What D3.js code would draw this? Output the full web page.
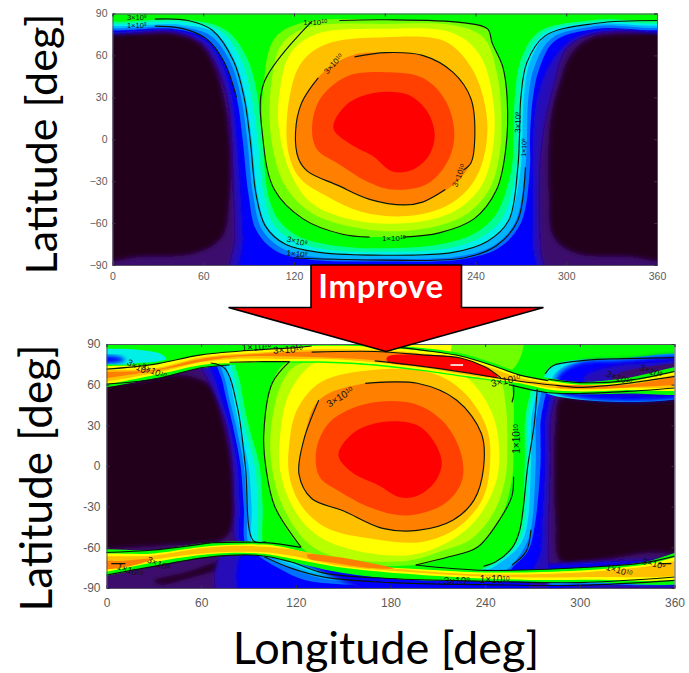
<!DOCTYPE html>
<html><head><meta charset="utf-8"><style>html,body{margin:0;background:#fff}svg{display:block}</style>
<script src="https://cdn.jsdelivr.net/npm/d3@7"></script></head><body><svg id="c" width="689" height="673"></svg>
<script>
const lonTicks=[0,60,120,180,240,300,360];
const latTicks=[-90,-60,-30,0,30,60,90];
const palette={dark:"#22001f",purple:"#3c0a6e",indigo:"#2808b8",blue:"#0000ff",mid:"#0070ff",lt:"#00b4ff",cyan:"#00f0e8",teal:"#00ff90",green:"#00ff00",yg:"#70ff00",lime:"#b8ff00",yellow:"#ffff00",amber:"#ffc000",orange:"#ff8000",ored:"#ff4000",red:"#ff0000"};

// ---- upper map: iso-regions as [lon,lat]
const topHoleA=[[-15,75],[20,75.5],[42,75],[58,68],[67,52],[73,30],[77,0],[77,-40],[72,-70],[55,-81],[20,-83.5],[-15,-83.5]];
const topHoleB=[[375,75],[345,75.5],[316,72],[303,60],[296,40],[291,20],[289,0],[289,-40],[292,-70],[306,-81],[340,-83.5],[375,-83.5]];
const topIndigo=[[-10,100],[370,100],[370,78],[340,78],[315,75],[300,65],[292,40],[284,0],[282,-40],[283,-80],[285,-105],[80,-105],[81,-70],[80,-30],[79,0],[76,30],[68,55],[58,70],[40,77.5],[-10,78]];
const topBlue=[[-10,100],[370,100],[370,79.5],[330,78.5],[305,72],[290,55],[281,30],[278,0],[278,-40],[278,-75],[278,-105],[87,-105],[86,-70],[84,-30],[82,0],[79,30],[72,55],[62,70],[40,78],[-10,79.5]];
const topMid=[[-10,100],[370,100],[370,81],[320,79],[292,70],[282,50],[278,30],[276,0],[276,-20],[270,-60],[255,-78],[230,-86],[180,-87.5],[130,-86],[108,-80],[95,-65],[90,-40],[86,0],[82,30],[74,55],[62,72],[40,79],[-10,81]];
const topLt=[[-10,100],[370,100],[370,82.5],[320,81],[290,72],[279,52],[275,30],[274,0],[273,-20],[266,-60],[252,-76],[228,-84],[180,-85.5],[135,-84.5],[112,-78],[99,-65],[93,-40],[89,0],[85,30],[78,55],[65,74],[45,80.5],[-10,82.5]];
const topCyan=[[-10,100],[370,100],[370,84],[320,82.5],[287,74],[276,55],[272,30],[271,0],[270,-20],[262,-58],[248,-73],[225,-81],[180,-83],[138,-81.5],[115,-75],[102,-62],[96,-40],[92,0],[88,30],[81,56],[68,76],[45,82],[-10,84]];
const topTeal=[[-10,100],[370,100],[370,85.5],[320,84],[285,76],[273,56],[269,30],[268,0],[267,-20],[258,-56],[244,-70],[222,-78],[180,-80.5],[142,-79],[118,-72],[106,-60],[100,-40],[96,0],[92,30],[85,57],[72,77],[48,84],[-10,85.5]];
const topGreen=[[-10,100],[370,100],[370,87],[320,85.5],[282,77],[270,57],[266,30],[265,0],[264,-20],[254,-53],[240,-67],[218,-75],[180,-78],[146,-76],[122,-69],[110,-58],[103,-40],[99,0],[96,30],[89,58],[75,78],[50,85.5],[-10,87]];
const top1e10=[[100,40],[107,72],[126,83.5],[181,85.5],[231,83.5],[248,79],[251,69],[258,52],[261,28],[260,-7],[254,-36],[239,-57],[216,-67],[181,-70],[152,-68],[126,-57],[107,-36],[99.5,0]];
const topLime=[[105,40],[112,68],[129,80],[180,82.5],[228,81],[246,72],[254,48],[257,20],[256,-10],[249,-36],[232,-55],[200,-65],[165,-64],[132,-53],[114,-33],[105,0]];
const topYellow=[[111,38],[118,62],[134,75],[180,79],[225,76],[243,60],[252,25],[251,-10],[243,-35],[225,-52],[195,-60],[160,-58],[132,-46],[118,-25],[110,8]];
const topAmber=[[117,30],[125,55],[141,68],[180,73],[220,70],[238,50],[247,20],[247,-5],[239,-30],[222,-47],[195,-55],[165,-52],[142,-41],[124,-28],[116,-8]];
const top3e10=[[125,26],[138,46.5],[158,60],[181,62],[205,60],[225,48],[237,29],[239.5,0],[237,-17],[225,-33],[205,-45],[193,-47],[170,-43],[149,-33],[129,-23],[123,-14],[121,5]];
const topOred=[[132,10],[138,30],[155,45],[180,48],[205,44],[220,28],[226,5],[222,-15],[208,-32],[185,-36],[168,-30],[150,-18],[135,-7]];
const topRed=[[146,8],[155,25],[172,33],[195,32],[208,20],[213,3],[209,-12],[198,-22],[185,-23],[172,-12],[158,-4]];
const topLine3e9=[[28,86],[50,85],[66,78],[80,56],[87,30],[91,0],[95,-40],[101,-62],[114,-75],[137,-81],[180,-83],[225,-81],[248,-73],[262,-58],[268,-20],[269,0],[270,30],[274,55],[286,74],[320,83],[360,85]];
const topLine1e9=[[28,81],[45,79.5],[62,72],[74,55],[82,30]];
const topLine1e9b=[[120,-85],[180,-86.5],[232,-85],[254,-76],[268,-58],[273,-20]];
const topLine1e10A=[[132,84.5],[100,40],[99.5,0],[107,-36],[126,-57],[152,-68],[170,-70]];
const topLine1e10B=[[192,-70],[216,-67],[239,-57],[254,-36],[260,-7],[261,28],[258,52],[251,69],[248,79],[231,83.5],[181,85.5],[150,85]];
const topLine3e10A=[[136,44],[125,26],[121,5],[123,-14],[129,-23],[149,-33],[170,-43],[193,-47],[205,-45],[220,-36]];
const topLine3e10B=[[232,-22],[237,-17],[239.5,0],[237,29],[225,48],[205,60],[181,62],[160,59]];
const topLabels=[[16,87.2,0,"3×10","9",7.5],[16,81.5,0,"1×10","9",7.5],[134,84,0,"1×10","10",8],[146,54,-48,"3×10","10",8],[268,12,-88,"3×10","9",8],[272,-6,-88,"1×10","9",7],[229,-26,-68,"3×10","10",8],[186,-71,0,"1×10","10",8],[122,-73,14,"3×10","9",8],[122,-82,6,"1×10","9",8]];

// ---- lower map: iso-regions as [lon,lat]
const botHoleA=[[-15,56],[20,62],[44,67],[58,64],[67,57],[74,30],[79,0],[79,-45],[73,-54],[40,-58],[2,-61],[-15,-62]];
const botHoleB=[[375,58],[340,54],[305,50],[288,50],[285,30],[284,0],[285,-40],[288,-70],[305,-70],[340,-64],[375,-58]];
const botIndigo=[[55,90],[66,60],[76,30],[80,0],[81,-30],[83,-58],[120,-70],[200,-105],[276,-105],[280,-70],[280,-47],[281,0],[281,30],[282,90]];
const botBlue=[[64,90],[70,60],[78,30],[83,0],[84.5,-30],[86,-58],[120,-70],[200,-105],[262,-105],[270,-78],[275,-65],[276,-47],[278,0],[278,30],[279,90]];
const botMid=[[70,90],[74,60],[80,30],[85,0],[87,-30],[90,-62],[120,-70],[200,-80],[245,-80],[255,-78],[258,-74],[267,-63],[271,-47],[275,0],[275,30],[276,90]];
const botLt=[[73,90],[76,60],[82,30],[87,0],[89,-30],[92,-62],[120,-70],[200,-80],[245,-80],[253,-77],[257,-73],[265,-60],[269,-47],[272,0],[272,30],[273,90]];
const botCyan=[[77,90],[79,60],[84,30],[90,0],[92,-30],[94,-62],[120,-70],[200,-80],[238,-78],[243,-76],[251,-70],[261,-60],[266,-47],[269,0],[269,30],[270,90]];
const botTeal=[[80,90],[82,60],[87,30],[94,0],[96,-30],[98,-62],[120,-70],[200,-80],[236,-78],[240,-76],[249,-70],[259,-60],[264,-47],[267,0],[267,30],[268,90]];
const botGreen=[[82,90],[85,60],[90,30],[97,0],[99,-30],[101,-62],[120,-70],[200,-80],[234,-78],[239,-75],[247,-70],[257,-60],[262,-47],[265,0],[265,30],[266,90]];
const botStripPurple=[[30,-85],[50,-79],[68,-72],[82,-68],[70,-76],[50,-83],[35,-87]];
const botStripIndigo=[[75,-105],[72,-66],[95,-60],[200,-75],[375,-75],[375,-86],[320,-90],[280,-93],[270,-105]];
const botStripBlue=[[89,-105],[85,-66],[100,-60],[200,-75],[375,-75],[375,-84.5],[320,-87.5],[290,-90],[270,-95],[255,-105]];
const botStripMid=[[92,-62],[97,-67],[110,-76],[125,-84],[150,-87.5],[200,-89],[250,-88.5],[300,-87.5],[375,-83.5],[375,-74],[300,-80],[200,-78]];
const botStripLt=[[95,-62],[100,-67],[115,-74.5],[130,-81],[155,-86],[200,-87.5],[250,-87.5],[300,-86.5],[375,-83],[375,-74],[300,-80],[200,-78]];
const botStripCyan=[[98,-62],[103,-66],[118,-73],[135,-79.5],[160,-84],[200,-86],[250,-86],[300,-85.5],[375,-82.5],[375,-74],[300,-80],[200,-78]];
const botTopGreen=[[-15,105],[375,105],[375,66],[280,64],[250,66],[100,76],[-15,70]];
const botTopLime=[[110,105],[262,105],[258,72],[230,70],[150,78],[110,78]];
const botTopYellow=[[130,105],[215,105],[215,78],[130,84]];
const bot1e10=[[113.6,76],[105,61],[99.7,24],[101,-1],[106.7,-30],[123.4,-60],[140,-70],[196,-73],[217,-67],[235,-60],[250,-38],[257,-10],[258,10],[258,48],[257,58],[255,70],[220,78],[150,80]];
const botLime=[[120,74],[110,58],[104,24],[105,-2],[111,-28],[126,-55],[142,-66],[190,-70],[214,-62],[231,-54],[246,-33],[253,-8],[254,12],[253,45],[248,66],[220,76],[150,78]];
const botYellow=[[132,76],[116,54],[110,22],[110,-3],[117,-28],[130,-48],[150,-60],[190,-66],[215,-57],[234,-40],[246,-15],[249,8],[244,40],[225,68],[190,78],[155,78]];
const botAmber=[[136,62],[121,42],[116,18],[116,-8],[124,-30],[140,-46],[170,-54],[200,-56],[222,-46],[238,-25],[243,0],[241,28],[226,55],[205,69],[170,71]];
const bot3e10=[[134.5,48.5],[164,61],[197,61],[222,48.5],[237.6,24],[239,-1],[233,-25],[219.5,-40],[197,-47.5],[175,-46],[150,-33],[130,-24],[122,-6],[125,19]];
const botOred=[[133,12],[142,33],[165,46],[195,46],[214,32],[225,8],[225,-12],[214,-28],[190,-36.5],[168,-31],[148,-19],[135,-8]];
const botRed=[[147,8],[156,24],[175,32.5],[197,30],[208,17],[212.5,2],[208,-12],[197,-22],[186,-23],[172,-14],[156,-5]];
const botVCyan=[[277,64],[280,72],[290,77],[310,79],[340,79.5],[375,80],[375,55],[277,55]];
const botVLt=[[282,64],[288,72],[300,76.5],[325,79],[375,79.5],[375,55],[282,55]];
const botVBlue=[[286,66],[298,75.7],[325,78],[375,78],[375,55],[286,55]];
const botVIndigo=[[303,66],[322,74],[345,76],[375,76.5],[375,58],[303,58]];
const botVPurple=[[321,66],[342,73],[375,74],[375,60],[321,60]];
const botLCyan=[[-15,83],[34,83],[38,78],[20,76],[-15,72]];
const botLBlue=[[-15,80],[8,80.5],[12,78],[-15,76]];
const tjGreen=[[-15,72],[20,75],[40,79],[60,84],[90,88],[130,92],[170,90],[200,87],[225,83],[245,76],[262,69],[280,65],[300,62],[330,65],[375,73],[375,56],[330,53.5],[300,53],[280,54],[262,59.5],[250,62],[230,65],[200,70],[170,74],[140,76],[110,76],[80,75],[60,72.5],[30,64.5],[-15,59]];
const tjYellow=[[-15,70],[30,75],[60,82],[100,86],[130,88.5],[170,88],[200,85],[225,81],[245,74],[262,67],[280,63],[300,60],[330,62],[375,70],[375,58.5],[330,56],[300,55],[280,56.5],[262,61],[250,63],[230,66],[200,71],[170,75],[140,77],[110,77],[80,76],[60,74.5],[30,67],[-15,60.5]];
const tjAmber=[[-15,68],[30,72],[60,80],[100,84],[130,86],[170,85.5],[200,83],[225,79],[245,72],[262,65],[280,61.5],[300,59],[330,60.5],[375,68],[375,61],[330,57.5],[300,56.5],[280,58],[262,62],[250,64],[230,67],[200,72.5],[170,76.5],[140,79],[110,79],[80,79],[60,76.5],[30,68.5],[-15,62.5]];
const tjOrange=[[-15,67],[30,71],[60,79],[100,83],[130,84.5],[170,84.5],[200,82],[225,78.5],[248,66.5],[225,70],[200,74],[170,78],[140,80],[110,81],[80,80.5],[60,77],[30,70],[-15,64.5]];
const tjOrangeR=[[290,59.5],[310,59.5],[330,60],[375,66.5],[375,63],[330,58],[300,57],[285,58]];
const tjRed=[[178,80.5],[200,82],[225,79.5],[240,73],[248,65.5],[225,69.5],[200,73.5],[178,77]];
const bjGreen=[[-15,-65],[30,-62],[66,-56.5],[100,-56],[120,-60],[140,-72],[190,-76],[240,-77],[300,-75],[340,-71],[375,-62],[375,-82.5],[300,-85.5],[240,-85],[190,-84],[150,-79],[116,-70.5],[97,-66],[66,-67],[30,-74],[0,-81],[-15,-83]];
const bjYellow=[[-15,-68],[30,-64.5],[66,-59],[100,-58],[120,-62],[150,-72],[196,-76],[240,-78.5],[300,-77],[340,-73],[375,-66],[375,-79.5],[300,-84],[240,-83],[196,-80],[150,-75],[116,-68],[97,-64.5],[66,-65],[30,-71],[0,-78],[-15,-80]];
const bjAmber=[[-15,-70],[30,-66],[66,-60],[100,-59.5],[125,-63],[155,-72],[196,-77],[240,-80],[300,-78.5],[340,-74.5],[375,-69],[375,-77],[300,-82],[240,-81.5],[196,-78.5],[150,-74],[116,-66],[97,-63.5],[66,-64],[30,-69],[0,-76],[-15,-78]];
const bjOrange=[[127,-65.5],[145,-67],[165,-71],[182,-75.5],[165,-75],[145,-71.5],[128,-68]];
const bjOrange0=[[-15,-71],[10,-70],[30,-68.5],[10,-75],[-15,-75]];
const lineTopJet=[[-5,71],[30,75],[60,82],[100,86],[122,87.5],[130,88.5]];
const lineTopJet2=[[-5,60],[30,64],[60,72.5],[78,74.5]];
const lineTopJetU=[[175,89],[200,85.5],[225,81],[245,74],[262,67],[280,63]];
const lineTopCore=[[130,84],[170,84.5],[200,82],[225,79.5],[240,73],[250,65]];
const lineTopCoreL=[[170,77.5],[200,73.5],[230,68.5],[262,62.5],[285,59.5],[300,58],[330,61],[365,67]];
const lineTopJetR=[[255,60],[280,54],[300,53.5],[330,55],[365,58]];
const lineTopJetR2=[[280,64],[300,61.5],[330,63],[365,71]];
const lineTopFlat=[[78,76.5],[100,77],[116,77]];
const line1e10TL=[[116,77],[105,61],[99.7,24],[101,-1],[106.7,-30],[123.4,-60]];
const lineRightTop=[[258,60],[258,52],[257,47]];
const line1e10BR=[[258,-8],[257,-22],[250,-38],[235,-60],[217,-67],[196,-73]];
const lineWedge=[[196,-73],[240,-77],[300,-75],[340,-71.5],[365,-65]];
const line3e9L=[[66,76],[75,72],[83,43],[88,0],[93,-55],[101,-56]];
const line3e9Foot=[[60,-57],[100,-56.5],[123,-60]];
const line3e9R=[[239,-74],[247,-70.5],[257.6,-59.5],[262,-47],[267,0],[271,30],[273,57]];
const line1e9R=[[257,-73],[266,-63],[269,-47]];
const lineBjLow=[[-5,-81.5],[30,-74],[66,-67],[97,-66],[116,-70.5],[138,-79],[180,-83],[240,-85],[300,-86],[365,-81.5]];
const lineBjLow2=[[100,-67],[116,-75],[138,-82],[180,-86],[240,-87.5],[300,-88],[365,-84]];
const lineBjUp=[[-5,-64],[30,-62],[66,-56.5]];
const lineVortex=[[278,68],[283,74],[300,77.6],[321,79],[360,80]];
const lineBot3e10A=[[134.5,48.5],[125,19],[122,-6],[130,-24],[150,-33],[175,-46],[197,-47.5],[219.5,-40],[233,-25],[239,-1],[237.6,24],[222,48.5],[197,61],[164,61]];
const lineLow0=[[3,-72],[12,-72]];
const lineLow1=[[350,-72],[358,-72]];
const botLabels=[[148,51,-32,"3×10","10",10],[260,20,-90,"1×10","10",10],[20,73,28,"3×10","9",9],[30,70,24,"3×10","10",9],[95,88,-3,"1×10","10",10],[115,86,-3,"3×10","10",10],[253,63,-12,"3×10","10",10],[325,65,20,"3×10","10",9],[345,70,22,"3×10","9",9],[15,-77,20,"1×10","10",9],[33,-72,22,"3×10","9",9],[222,-85,0,"3×10","9",10],[246,-84,0,"1×10","10",10],[325,-77,16,"1×10","10",9],[347,-72,14,"3×10","9",9]];

const svg=d3.select("#c");
const defs=svg.append("defs");
defs.append("filter").attr("id","soft").attr("x","-5%").attr("y","-5%").attr("width","110%").attr("height","110%").append("feGaussianBlur").attr("stdDeviation",0.7);
defs.append("filter").attr("id","soft2").attr("x","-10%").attr("y","-10%").attr("width","120%").attr("height","120%").append("feGaussianBlur").attr("stdDeviation",2.2);
const softNames=new Set(["dark","indigo","blue"]);
function panel(id,box,layers,lines,labels,tickSize,minus,labelOff,hide){
  const x=d3.scaleLinear().domain([0,360]).range([box.l,box.r]);
  const y=d3.scaleLinear().domain([-90,90]).range([box.b,box.t]);
  defs.append("clipPath").attr("id",id).append("rect").attr("x",box.l).attr("y",box.t).attr("width",box.r-box.l).attr("height",box.b-box.t);
  const closed=d3.line().x(d=>x(d[0])).y(d=>y(d[1])).curve(d3.curveCatmullRomClosed.alpha(0.5));
  const open=d3.line().x(d=>x(d[0])).y(d=>y(d[1])).curve(d3.curveCatmullRom.alpha(0.5));
  const g=svg.append("g").attr("clip-path",`url(#${id})`);
  const fills=g.append("g").attr("filter","url(#soft)");
  fills.append("rect").attr("x",box.l-4).attr("y",box.t-4).attr("width",box.r-box.l+8).attr("height",box.b-box.t+8).attr("fill",palette.purple);
  fills.selectAll("path.f").data(layers).join("path").attr("class","f").attr("d",d=>closed(d[1])).attr("fill",d=>palette[d[0]]).attr("filter",d=>softNames.has(d[0])?"url(#soft2)":null);
  g.selectAll("path.l").data(lines).join("path").attr("class","l").attr("d",d=>open(d)).attr("fill","none").attr("stroke","#0a160a").attr("stroke-width",1.15);
  const lab=g.selectAll("text").data(labels).join("text").attr("transform",d=>`translate(${x(d[0])},${y(d[1])}) rotate(${d[2]})`).attr("text-anchor","middle").attr("dy","0.35em").attr("font-family","Liberation Sans").attr("fill","#101010").attr("font-size",d=>d[5]);
  lab.append("tspan").text(d=>d[3]);
  lab.append("tspan").attr("dy","-0.4em").attr("font-size",d=>d[5]*0.65).text(d=>d[4]);
  const ax=svg.append("g").attr("font-family","Liberation Sans");
  ax.append("g").attr("transform",`translate(0,${box.b})`).call(d3.axisBottom(x).tickValues(lonTicks.filter(t=>t!==hide)).tickSize(-3).tickPadding(labelOff.x).tickFormat(d3.format("d")));
  ax.append("g").attr("transform",`translate(${box.l},0)`).call(d3.axisLeft(y).tickValues(latTicks).tickSize(-3).tickPadding(labelOff.y).tickFormat(d=>(d<0?minus:"")+Math.abs(d)));
  ax.append("g").attr("transform",`translate(0,${box.t})`).call(d3.axisTop(x).tickValues(lonTicks).tickSize(-3).tickFormat(""));
  ax.append("g").attr("transform",`translate(${box.r},0)`).call(d3.axisRight(y).tickValues(latTicks).tickSize(-3).tickFormat(""));
  ax.selectAll(".domain").attr("stroke","#556");
  ax.selectAll(".tick line").attr("stroke","#334");
  ax.selectAll("text").attr("fill","#5a5a5a").attr("font-size",tickSize);
}
panel("cTop",{l:112.5,r:657,t:13.5,b:265},[
 ["dark",topHoleA],["dark",topHoleB],["indigo",topIndigo],["blue",topBlue],["mid",topMid],["lt",topLt],["cyan",topCyan],["teal",topTeal],["green",topGreen],
 ["yg",top1e10],["lime",topLime],["yellow",topYellow],["amber",topAmber],["orange",top3e10],["ored",topOred],["red",topRed]
],[topLine3e9,topLine1e9,topLine1e9b,topLine1e10A,topLine1e10B,topLine3e10A,topLine3e10B],topLabels,10.5,"−",{x:8,y:5},180);
panel("cBot",{l:106.5,r:674.5,t:344,b:588},[
 ["dark",botHoleA],["dark",botHoleB],["dark",botStripPurple],
 ["indigo",botStripIndigo],["blue",botStripBlue],["mid",botStripMid],["lt",botStripLt],["cyan",botStripCyan],
 ["indigo",botIndigo],["blue",botBlue],["mid",botMid],["lt",botLt],["cyan",botCyan],["teal",botTeal],["green",botGreen],
 ["green",botTopGreen],["yg",botTopLime],["yellow",botTopYellow],
 ["yg",bot1e10],["lime",botLime],["yellow",botYellow],["amber",botAmber],["orange",bot3e10],["ored",botOred],["red",botRed],
 ["cyan",botLCyan],["blue",botLBlue],
 ["cyan",botVCyan],["lt",botVLt],["blue",botVBlue],["indigo",botVIndigo],["purple",botVPurple],
 ["green",tjGreen],["yellow",tjYellow],["amber",tjAmber],["orange",tjOrange],["orange",tjOrangeR],["red",tjRed],
 ["green",bjGreen],["yellow",bjYellow],["amber",bjAmber],["orange",bjOrange],["orange",bjOrange0]
],[lineTopJet,lineTopJet2,lineTopJetU,lineTopCore,lineTopCoreL,lineTopJetR,lineTopJetR2,lineTopFlat,line1e10TL,lineRightTop,line1e10BR,lineWedge,line3e9L,line3e9Foot,line3e9R,line1e9R,lineBjLow,lineBjLow2,lineBjUp,lineVortex,lineBot3e10A,lineLow0,lineLow1],botLabels,12,"-",{x:10,y:6},null);

// white speck in the jet, read at lon 222 lat 74.5
const xB=d3.scaleLinear().domain([0,360]).range([106.5,674.5]),yB=d3.scaleLinear().domain([-90,90]).range([588,344]);
const speck=[[218,74.5],[226,74.5]];
svg.append("path").attr("d",d3.line().x(d=>xB(d[0])).y(d=>yB(d[1]))(speck)).attr("stroke","#fff").attr("stroke-width",1.6);

// block arrow
svg.append("path").attr("d","M311,265H461.5V307.5H543.5L386,351.5L228.5,307.5H311Z").attr("fill","#ff0000").attr("stroke","#000").attr("stroke-width",1.6);
svg.append("text").attr("x",381).attr("y",298).attr("text-anchor","middle").attr("font-family","Lato").attr("font-weight",700).attr("font-size",33).attr("letter-spacing",0.7).attr("fill","#fff").text("Improve");
svg.append("text").attr("transform","translate(57,144) rotate(-90)").attr("text-anchor","middle").attr("font-family","Lato").attr("font-size",43).text("Latitude [deg]");
svg.append("text").attr("transform","translate(52,478) rotate(-90)").attr("text-anchor","middle").attr("font-family","Lato").attr("font-size",44).text("Latitude [deg]");
svg.append("text").attr("x",386).attr("y",664).attr("text-anchor","middle").attr("font-family","Lato").attr("font-size",45).text("Longitude [deg]");
</script></body></html>
